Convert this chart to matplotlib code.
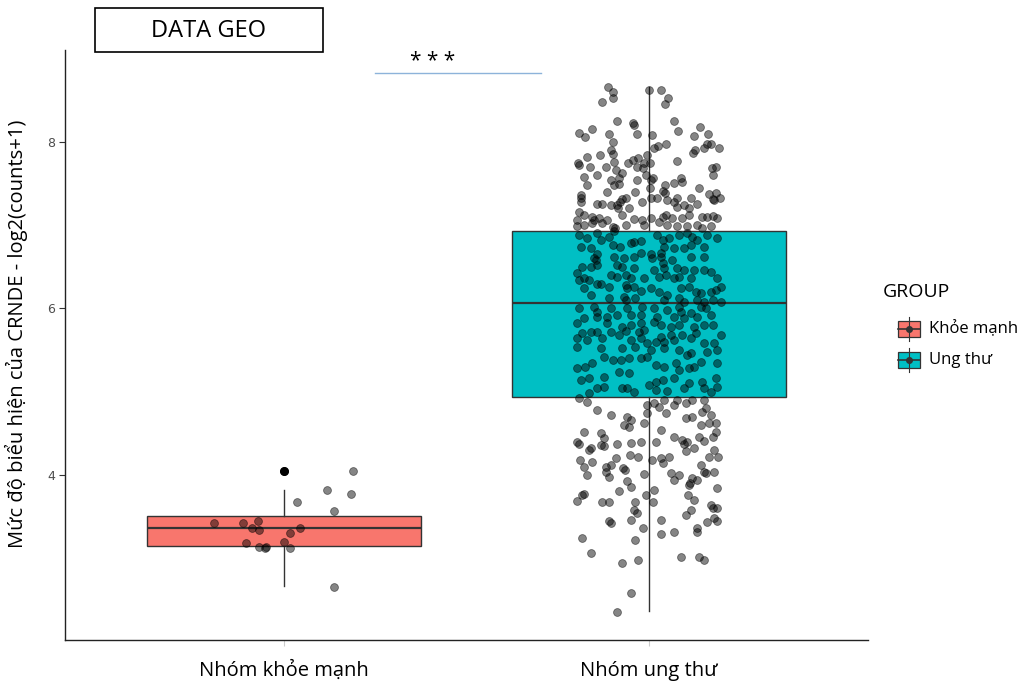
import matplotlib.pyplot as plt
from matplotlib.patches import Rectangle
from matplotlib.lines import Line2D

plt.rcParams['font.family'] = ['Open Sans', 'DejaVu Sans']

groups = ['Nhóm khỏe mạnh', 'Nhóm ung thư']
legend_labels = ['Khỏe mạnh', 'Ung thư']
colors = ['#F8766D', '#00BFC4']

# box stats: whisker low, q1, median, q3, whisker high
box_stats = [[2.67, 3.15, 3.37, 3.51, 3.82],
             [2.37, 4.94, 6.06, 6.93, 8.65]]
outliers = [[4.05], []]

# jittered points: (value, horizontal offset from group centre)
healthy_pts = [(4.05, 0.19), (4.05, 0.0), (3.82, 0.119), (3.77, 0.184), (3.68, 0.035),
               (3.57, 0.138), (3.43, -0.192), (3.42, -0.111), (3.45, -0.072), (3.36, -0.088),
               (3.34, -0.068), (3.36, 0.045), (3.30, 0.016), (3.18, -0.105), (3.14, -0.068),
               (3.14, -0.049), (3.12, -0.052), (3.20, 0.0), (3.12, 0.016), (2.66, 0.138)]

cancer_pts = [
    # top
    (8.66, -0.112), (8.60, -0.099), (8.52, -0.099), (8.48, -0.128), (8.62, 0.0), (8.62, 0.034),
    (8.52, 0.052), (8.45, 0.044), (8.25, -0.089), (8.22, -0.044), (8.20, -0.041), (8.25, 0.068),
    (8.13, 0.079), (8.18, 0.141), (8.10, -0.192), (8.15, -0.155), (8.05, -0.175), (8.09, -0.109),
    (8.00, -0.098), (8.09, -0.032), (8.08, 0.007), (8.07, 0.124), (8.09, 0.162), (7.93, 0.014),
    (7.95, 0.026), (7.97, 0.047), (7.90, -0.105), (7.85, -0.098), (7.84, -0.135), (7.82, -0.169),
    (7.74, -0.194), (7.76, -0.096), (7.75, -0.057), (7.78, -0.043), (7.80, -0.029), (7.84, -0.005),
    (7.75, -0.014), (7.75, 0.003), (7.77, 0.076), (7.87, 0.121), (7.90, 0.125), (7.93, 0.150),
    (7.97, 0.160), (7.97, 0.169), (7.92, 0.191),
    # 7.7 - 6.65
    (7.72, -0.192), (7.70, -0.162), (7.69, -0.119), (7.66, -0.091), (7.70, -0.034), (7.68, -0.016),
    (7.68, 0.172), (7.70, 0.183), (7.57, -0.178), (7.60, -0.142), (7.54, -0.105), (7.56, -0.082),
    (7.62, -0.073), (7.54, -0.032), (7.60, -0.009), (7.54, 0.006), (7.56, 0.012), (7.56, 0.087),
    (7.52, 0.091), (7.60, 0.174), (7.48, -0.169), (7.48, -0.096), (7.49, -0.082), (7.48, 0.044),
    (7.50, 0.068), (7.36, -0.187), (7.32, -0.187), (7.28, -0.187), (7.40, -0.114), (7.40, -0.038),
    (7.44, 0.003), (7.41, 0.039), (7.38, 0.044), (7.33, 0.078), (7.44, 0.137), (7.37, 0.164),
    (7.38, 0.183), (7.32, 0.195), (7.30, 0.178), (7.25, -0.142), (7.25, -0.128), (7.24, -0.105),
    (7.24, -0.087), (7.28, -0.079), (7.31, -0.073), (7.32, -0.064), (7.20, -0.055), (7.20, -0.085),
    (7.28, -0.020), (7.32, 0.005), (7.32, 0.021), (7.30, 0.050), (7.28, 0.068), (7.22, 0.078),
    (7.24, 0.096), (7.32, 0.114), (7.21, 0.110), (7.25, 0.132), (7.31, 0.174), (7.16, -0.192),
    (7.12, -0.178), (7.10, -0.155), (7.06, -0.151), (7.08, -0.137), (7.06, -0.114), (7.12, -0.073),
    (7.07, -0.041), (7.06, -0.018), (7.08, 0.006), (7.10, 0.037), (7.12, 0.046), (7.08, 0.064),
    (7.09, 0.091), (7.12, 0.110), (7.10, 0.146), (7.10, 0.160), (7.11, 0.174), (7.09, 0.187),
    (7.06, -0.198), (6.99, -0.196), (7.00, -0.178), (7.02, -0.155), (7.02, -0.128), (6.96, -0.094),
    (6.98, -0.098), (7.00, -0.064), (7.00, -0.014), (7.04, 0.027), (7.00, 0.050), (6.99, 0.078),
    (6.99, 0.103), (7.00, 0.131), (6.96, 0.146), (6.99, 0.169),
    (6.88, -0.192), (6.85, -0.169), (6.90, -0.142), (6.82, -0.132), (6.86, -0.110), (6.93, -0.096),
    (6.78, -0.050), (6.80, -0.041), (6.81, -0.023), (6.88, 0.023), (6.82, 0.037), (6.84, 0.055),
    (6.88, 0.082), (6.90, 0.105), (6.86, 0.119), (6.82, 0.132), (6.88, 0.160), (6.84, 0.187),
    (6.74, -0.187), (6.72, -0.160), (6.76, -0.098), (6.74, -0.079), (6.66, -0.023), (6.65, 0.005),
    (6.66, 0.032), (6.73, 0.041), (6.72, 0.068), (6.72, 0.096), (6.76, 0.114), (6.74, 0.151),
    (6.65, -0.142),
    # 6.6 - 5.58
    (6.60, -0.151), (6.58, -0.146), (6.62, -0.096), (6.60, -0.068), (6.61, -0.041), (6.60, 0.009),
    (6.62, 0.032), (6.54, 0.037), (6.58, 0.064), (6.62, 0.114), (6.61, 0.151), (6.50, -0.183),
    (6.50, -0.160), (6.52, -0.142), (6.52, -0.087), (6.50, -0.073), (6.48, -0.041), (6.46, 0.014),
    (6.48, 0.041), (6.48, 0.078), (6.46, 0.096), (6.46, 0.123), (6.46, 0.151), (6.44, 0.169),
    (6.42, -0.196), (6.36, -0.178), (6.34, -0.192), (6.34, -0.164), (6.29, -0.142), (6.29, -0.132),
    (6.40, -0.105), (6.38, -0.087), (6.40, -0.064), (6.36, -0.050), (6.36, -0.014), (6.38, 0.027),
    (6.40, 0.046), (6.36, 0.068), (6.38, 0.082), (6.36, 0.114), (6.36, 0.187), (6.26, 0.196),
    (6.24, -0.178), (6.16, -0.160), (6.26, -0.110), (6.28, -0.064), (6.24, -0.059), (6.26, -0.041),
    (6.21, -0.023), (6.24, 0.005), (6.20, 0.027), (6.16, 0.050), (6.24, 0.087), (6.26, 0.110),
    (6.20, 0.128), (6.18, 0.142), (6.20, 0.169), (6.22, 0.183), (6.12, -0.110), (6.14, -0.068),
    (6.10, -0.064), (6.12, -0.037), (6.10, 0.041), (6.12, 0.082), (6.08, 0.096), (6.10, 0.132),
    (6.08, 0.151), (6.10, 0.174), (6.08, 0.196), (6.00, -0.192), (6.02, -0.151), (5.96, -0.142),
    (6.00, -0.105), (6.00, -0.059), (6.02, -0.018), (6.00, 0.014), (5.98, 0.050), (6.02, 0.082),
    (5.96, 0.087), (5.94, 0.114), (6.02, 0.142), (6.00, 0.155), (5.90, -0.142), (5.90, -0.114),
    (5.92, -0.087), (5.92, -0.050), (5.92, -0.023), (5.90, 0.023), (5.90, 0.068), (5.88, 0.096),
    (5.90, 0.132), (5.92, 0.169), (5.88, -0.178), (5.82, -0.196), (5.82, -0.114), (5.78, -0.073),
    (5.80, -0.050), (5.82, -0.023), (5.84, 0.014), (5.80, 0.032), (5.78, 0.059), (5.80, 0.082),
    (5.78, 0.123), (5.80, 0.151), (5.80, 0.174), (5.70, -0.183), (5.72, -0.160), (5.72, -0.142),
    (5.72, -0.105), (5.68, -0.082), (5.73, -0.064), (5.72, -0.027), (5.74, -0.014), (5.66, 0.032),
    (5.68, 0.059), (5.68, 0.091), (5.70, 0.128), (5.68, 0.196), (5.64, -0.196), (5.62, -0.169),
    (5.64, -0.128), (5.62, -0.050), (5.64, -0.023), (5.58, -0.005), (5.60, 0.018), (5.60, 0.041),
    (5.62, 0.068), (5.64, 0.114), (5.58, 0.151), (5.58, 0.178),
    # 5.55 - 4.5
    (5.54, -0.196), (5.52, -0.132), (5.52, -0.073), (5.54, -0.037), (5.50, 0.005), (5.52, 0.041),
    (5.50, 0.082), (5.44, 0.105), (5.46, 0.114), (5.48, 0.160), (5.50, 0.187), (5.28, -0.198),
    (5.30, -0.174), (5.34, -0.155), (5.42, -0.123), (5.38, -0.100), (5.38, -0.078), (5.40, -0.055),
    (5.40, -0.023), (5.41, -0.005), (5.32, 0.018), (5.30, 0.041), (5.34, 0.073), (5.26, 0.082),
    (5.28, 0.110), (5.30, 0.123), (5.36, 0.142), (5.34, 0.187), (5.14, -0.187), (5.16, -0.164),
    (5.18, -0.123), (5.24, -0.082), (5.22, -0.055), (5.08, 0.0), (5.12, 0.018), (5.14, 0.037),
    (5.16, 0.068), (5.10, 0.110), (5.12, 0.146), (5.16, 0.183), (5.04, -0.142), (5.05, -0.123),
    (5.04, -0.073), (5.04, -0.059), (5.00, -0.041), (4.98, -0.164), (5.02, 0.018), (5.01, 0.050),
    (5.04, 0.096), (5.04, 0.151), (5.00, 0.169), (5.06, 0.187),
    (4.92, -0.192), (4.88, -0.169), (4.78, -0.142), (4.72, -0.105), (4.70, -0.059), (4.66, -0.050),
    (4.60, -0.068), (4.58, -0.055), (4.62, -0.014), (4.84, -0.005), (4.74, -0.006), (4.86, 0.014),
    (4.82, 0.027), (4.90, 0.041), (4.74, 0.046), (4.84, 0.068), (4.90, 0.078), (4.86, 0.100),
    (4.90, 0.119), (4.90, 0.151), (4.76, 0.146), (4.80, 0.155), (4.72, 0.169), (4.68, 0.100),
    (4.70, 0.119), (4.60, 0.142), (4.62, 0.164), (4.62, 0.183), (4.52, -0.178), (4.50, -0.132),
    (4.54, 0.032), (4.52, 0.183),
    # 4.5 - 3.4
    (4.40, -0.198), (4.37, -0.192), (4.32, -0.160), (4.30, -0.164), (4.36, -0.132), (4.35, -0.123),
    (4.44, -0.123), (4.37, -0.089), (4.38, -0.050), (4.40, -0.023), (4.40, 0.018), (4.46, 0.068),
    (4.42, 0.091), (4.37, 0.096), (4.40, 0.105), (4.46, 0.137), (4.41, 0.151), (4.45, 0.174),
    (4.29, 0.100), (4.32, 0.123), (4.30, 0.178), (4.18, -0.189), (4.16, -0.155), (4.10, -0.119),
    (4.12, -0.105), (4.20, -0.091), (4.04, -0.119), (3.98, -0.110), (4.08, -0.070), (4.06, -0.066),
    (4.24, -0.052), (4.22, -0.030), (4.18, 0.009), (4.20, 0.032), (4.14, 0.037), (4.22, 0.055),
    (4.21, 0.164), (4.21, 0.189), (4.12, 0.142), (4.04, 0.151), (4.02, 0.155), (4.10, -0.178),
    (4.00, -0.169), (4.02, 0.059), (4.00, 0.082), (3.94, 0.068), (3.96, 0.119), (3.94, 0.132),
    (4.04, 0.178), (4.01, -0.014), (3.93, -0.059), (3.86, -0.050), (3.81, -0.082), (3.76, -0.009),
    (3.82, 0.014), (3.68, 0.012), (3.88, 0.110), (3.90, 0.112), (3.76, 0.107), (3.84, 0.187),
    (3.77, -0.178), (3.76, -0.183), (3.69, -0.198), (3.68, -0.128), (3.67, -0.110), (3.67, -0.037),
    (3.58, -0.041), (3.55, -0.034), (3.70, 0.123), (3.58, 0.114), (3.52, 0.100), (3.64, 0.169),
    (3.60, 0.174), (3.60, 0.185), (3.45, -0.110), (3.42, -0.105), (3.46, -0.050), (3.46, 0.032),
    (3.48, 0.178), (3.45, 0.187), (3.44, 0.158),
    # bottom
    (3.36, -0.016), (3.29, 0.032), (3.32, 0.068), (3.36, 0.132), (3.32, 0.132), (3.24, -0.183),
    (3.22, -0.037), (3.06, -0.160), (2.94, -0.073), (2.98, -0.030), (3.02, 0.087), (3.02, 0.137),
    (2.98, 0.151), (2.58, -0.050), (2.36, -0.087),
]

W, H = 1026, 684
fig = plt.figure(figsize=(W / 100, H / 100), dpi=100)
ax = fig.add_axes([65 / W, 1 - 640 / H, (868 - 65) / W, (640 - 50) / H])

# boxes
stats = []
for i, s in enumerate(box_stats):
    stats.append(dict(whislo=s[0], q1=s[1], med=s[2], q3=s[3], whishi=s[4],
                      fliers=outliers[i], label=groups[i]))
bp = ax.bxp(stats, positions=[1, 2], widths=0.75, patch_artist=True, showcaps=False,
            boxprops=dict(edgecolor='#333333', linewidth=1.0),
            medianprops=dict(color='#333333', linewidth=1.6),
            whiskerprops=dict(color='#333333', linewidth=1.0),
            flierprops=dict(marker='o', markerfacecolor='black', markeredgecolor='black',
                            markersize=5.5))
for patch, c in zip(bp['boxes'], colors):
    patch.set_facecolor(c)

# jittered points
for pos, pts in [(1, healthy_pts), (2, cancer_pts)]:
    xs = [pos + dx for y, dx in pts]
    ys = [y for y, dx in pts]
    ax.scatter(xs, ys, s=32, color='black', alpha=0.48, linewidths=0.6,
               edgecolors='black', zorder=4)

ax.set_xlim(0.4, 2.6)
ax.set_ylim(2.02, 9.1)
ax.set_xticks([1, 2])
ax.set_xticklabels(groups, fontsize=14.5)
ax.set_yticks([4, 6, 8])
ax.set_yticklabels(['4', '6', '8'], fontsize=9, color='#4d4d4d', family='DejaVu Sans')
ax.tick_params(axis='y', length=4, width=0.8, color='#333333', pad=3)
ax.tick_params(axis='x', length=4, width=0.8, color='#cccccc', pad=11)
ax.set_ylabel('Mức độ biểu hiện của CRNDE - log2(counts+1)', fontsize=14.5)
ax.yaxis.set_label_coords(-0.046, 0.519)
for side in ['top', 'right']:
    ax.spines[side].set_visible(False)
for side in ['left', 'bottom']:
    ax.spines[side].set_color('#222222')
    ax.spines[side].set_linewidth(1.0)

# significance bar
ax.plot([1.249, 1.704], [8.83, 8.83], color='#8db3da', lw=1.0, clip_on=False)
ax.text(1.408, 8.96, '* * *', ha='center', va='center', fontsize=15, clip_on=False)

# title box
fig.add_artist(Rectangle((95 / W, 1 - 52 / H), 228 / W, 44 / H, transform=fig.transFigure,
                         fill=False, edgecolor='black', linewidth=1.2))
fig.text(209 / W, 1 - 31 / H, 'DATA GEO', ha='center', va='center', fontsize=17)

# legend drawn by hand, ggplot style boxplot keys
lax = fig.add_axes([875 / W, 1 - 380 / H, 151 / W, 100 / H])
lax.set_xlim(875, 1026)
lax.set_ylim(380, 280)
lax.axis('off')
lax.text(883, 292, 'GROUP', fontsize=14, va='center', ha='left')
for i, (lab, c) in enumerate(zip(legend_labels, colors)):
    yc = 329 + i * 31
    lax.add_line(Line2D([909, 909], [yc - 12, yc + 12], color='#333333', lw=0.8))
    lax.add_patch(Rectangle((898, yc - 8), 22, 16, facecolor=c, edgecolor='#333333', lw=0.9))
    lax.add_line(Line2D([898, 920], [yc, yc], color='#333333', lw=1.2))
    lax.plot(909, yc, 'o', color='#333333', markersize=4)
    lax.text(929, yc, lab, fontsize=12, va='center', ha='left')

fig.savefig('out.png', dpi=100)
